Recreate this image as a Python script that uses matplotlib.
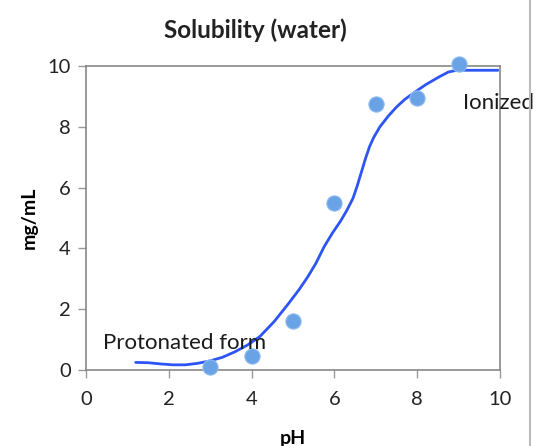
import matplotlib
matplotlib.use("Agg")
import matplotlib.pyplot as plt
from matplotlib.lines import Line2D

plt.rcParams['font.family'] = ['Lato', 'DejaVu Sans']

# measured solubility points
ph_points = [3, 4, 5, 6, 7, 8, 9]
sol_points = [0.1, 0.45, 1.6, 5.5, 8.75, 8.95, 10.05]

# hand-fitted trend curve
curve_ph = [1.2, 1.5, 1.8, 2.1, 2.4, 2.7, 3.0, 3.3, 3.6, 3.9, 4.2, 4.55, 4.9,
            5.15, 5.35, 5.55, 5.75, 5.95, 6.15, 6.3, 6.45, 6.55, 6.65, 6.75,
            6.85, 6.95, 7.1, 7.3, 7.5, 7.7, 7.9, 8.2, 8.5, 8.75, 8.95, 9.3,
            9.95]
curve_sol = [0.25, 0.24, 0.2, 0.17, 0.17, 0.22, 0.3, 0.42, 0.6, 0.82, 1.1,
             1.6, 2.2, 2.65, 3.05, 3.5, 4.05, 4.5, 4.9, 5.25, 5.65, 6.05,
             6.5, 6.95, 7.35, 7.65, 8.0, 8.35, 8.65, 8.9, 9.1, 9.38, 9.62,
             9.8, 9.86, 9.86, 9.86]

x_ticks = [0, 2, 4, 6, 8, 10]
y_ticks = [0, 2, 4, 6, 8, 10]

fig = plt.figure(figsize=(5.36, 4.46), dpi=100)
ax = fig.add_axes([0.1604, 0.1704, 0.7724, 0.6816])

ax.plot(curve_ph, curve_sol, color='#2d55f5', lw=2.0, zorder=2, clip_on=False,
        solid_joinstyle='round', solid_capstyle='round')
ax.scatter(ph_points, sol_points, s=120, color='#6aa2e6', edgecolor='#8fbcf0',
           linewidth=0.8, zorder=3, clip_on=False)

ax.set_xlim(0, 10)
ax.set_ylim(0, 10)
ax.set_xticks(x_ticks)
ax.set_yticks(y_ticks)
ax.tick_params(direction='out', length=6, width=1, color='#999999',
               labelsize=14.5, labelcolor='#222222', pad=5)
ax.tick_params(axis='x', pad=9)
for s in ax.spines.values():
    s.set_color('#888888')
    s.set_linewidth(1.2)

ax.set_xlabel('pH', fontsize=14, fontweight='bold', labelpad=16)
ax.set_ylabel('mg/mL', fontsize=14, fontweight='bold', labelpad=7)

fig.text(255 / 536, 1 - 30 / 446, 'Solubility (water)', ha='center', va='center',
         fontsize=17.5, fontweight='bold', color='#222222')

ax.text(0.4, 0.9, 'Protonated form', fontsize=16, ha='left', va='center',
        color='#1a1a1a')
ax.text(9.1, 8.77, 'Ionized', fontsize=16, ha='left', va='center',
        color='#1a1a1a', clip_on=False)

fig.add_artist(Line2D([530 / 536, 530 / 536], [0, 1], transform=fig.transFigure,
                      color='#bbbbbb', lw=1.5))

fig.savefig('out.png', dpi=100)
